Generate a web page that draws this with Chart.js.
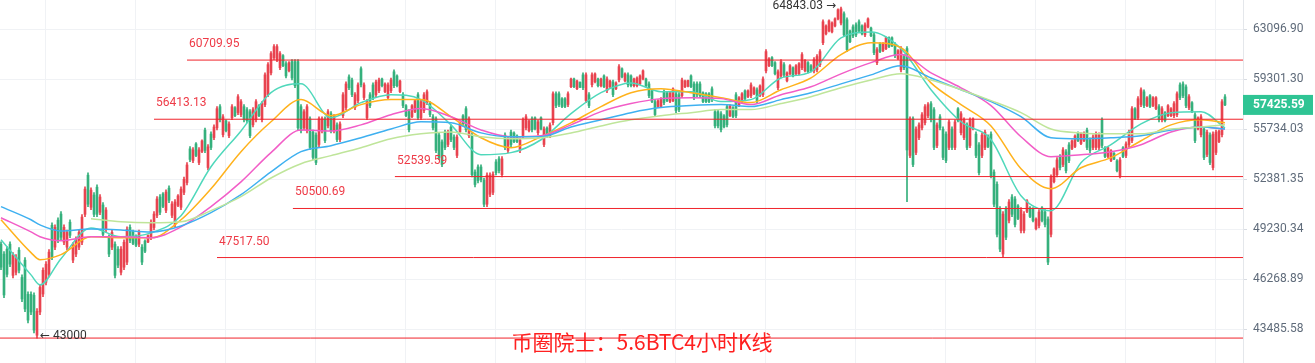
<!DOCTYPE html>
<html>
<head>
<meta charset="utf-8">
<script src="https://cdn.jsdelivr.net/npm/chart.js@4.4.1/dist/chart.umd.min.js"></script>
<style>
  html, body { margin: 0; padding: 0; background: #fff; }
  #wrap { width: 1315px; height: 363px; }
</style>
</head>
<body>
<div id="wrap"><canvas id="kline" width="1315" height="363"></canvas></div>
<script>
// 4h candles (index 0 = leftmost)
const opens = [
  48311,47719,48015,48311,46480,46657,47956,46357,47364,45395,
  45395,45339,43150,44414,45416,46085,46539,49459,48137,49774,
  50152,48433,48137,49648,47368,47723,48137,48433,50137,52631,
  50578,51349,51853,50263,50719,49202,48725,48137,48311,48015,
  46657,46953,47249,49333,49091,48795,48315,48133,48499,48442,
  48729,49321,50074,51223,51419,50389,51790,50074,49507,50697,
  50578,51523,52153,54376,53602,54715,53468,54204,55655,53133,
  55383,55146,55817,57297,55348,56298,55281,56528,57225,56884,
  56741,57297,57083,56941,56027,56385,57367,56385,57455,58167,
  59756,60894,60742,60135,61044,60442,59914,60594,60594,60594,
  57297,55817,55616,56441,55517,55316,54676,55616,56441,55955,
  56798,55616,56014,55012,56670,57241,59456,59228,57241,57740,
  60063,57954,56528,58153,58866,58167,58453,59298,58383,57954,
  58453,59835,59526,58383,58153,57367,56941,56600,56957,58153,
  56528,57027,57597,57511,56584,56441,55316,54846,55517,54676,
  55871,55182,53938,55546,56654,57155,55281,55316,52833,53168,
  53168,52298,50767,51397,51523,53504,53705,52664,55316,54274,
  55517,55453,55252,54274,55281,55817,55613,56441,56511,55482,
  56511,54676,55797,55281,56171,58224,58224,57867,57867,57455,
  58739,59298,58597,59048,59608,57740,58153,58880,59096,59298,
  58810,59526,58453,58739,59080,58597,59238,60057,59168,59608,
  59526,58810,58810,58953,59310,59298,58938,58437,57654,57313,
  57313,58367,58294,57670,57741,58224,58153,58097,58739,58770,
  59526,58938,58938,58938,58294,58223,58223,58580,56941,56941,
  56798,56654,57297,56671,57225,58153,57385,57670,58437,58027,
  58097,58240,58509,58097,58167,59908,60293,60892,60512,58667,
  59528,60367,59168,59686,60133,59686,59686,60135,59914,60512,
  60285,59908,59984,60363,62033,62722,62949,62873,63336,63895,
  63566,64303,63824,62941,63266,63426,63665,63336,62640,63256,
  63176,62643,60515,61955,61432,61583,62410,62410,61885,60824,
  59984,60974,61581,53938,56441,54139,55146,55817,56171,56670,
  57511,57083,54609,56584,55727,55383,54475,55727,54475,57153,
  55482,55146,56014,54609,55747,55383,54645,53938,54475,55252,
  55383,52833,52042,50467,47723,50467,49759,51223,51097,50663,
  49143,49143,50319,50537,50474,49251,49444,50537,50278,49837,
  48907,52209,52664,53839,53334,54175,54645,54405,54539,55453,
  54740,54942,55655,54981,54475,54475,54475,56370,54446,53868,
  53600,54084,53574,52598,54446,53938,54676,54945,57153,56528,
  57455,58367,57385,58080,57385,57171,57297,56385,56868,56671,
  56671,56670,56741,58866,58938,58723,57241,57581,56727,55747,
  55348,55727,54005,55316,53133,54139,54875,55348,58000
];
const highs = [
  48461,47869,48165,48461,47810,47691,48106,46507,47514,45545,
  45545,45489,44598,45935,46921,47277,47987,49609,49483,49924,
  50302,49483,49171,49798,48402,48757,49171,50113,51877,52781,
  51814,51499,52003,51373,50869,50554,48875,49171,48461,48165,
  48165,48579,49357,49483,49171,48875,49171,48283,48579,48875,
  49798,50302,51247,51373,51499,51688,51940,50932,51058,51373,
  51877,52515,53452,54526,54459,54795,54459,54996,55805,54660,
  55533,56021,57305,57447,56734,56378,56235,57447,57305,58160,
  57804,57447,57233,57091,57233,57804,57447,57661,59758,60517,
  61351,61883,61883,61351,61124,60592,60592,60744,60744,60744,
  57447,57091,57447,56591,55667,55466,56591,56591,56591,57091,
  56948,56734,56164,56235,58303,59088,59606,59378,58303,59016,
  60213,59016,57804,58303,59016,59230,59378,59378,59016,59016,
  59378,59985,59606,59230,58303,57447,57091,57447,57804,58303,
  57804,58303,58517,57661,56734,56591,55466,54996,55667,55667,
  56021,55332,55332,56235,56734,57305,56591,55466,52983,53318,
  53318,52448,52781,52781,52848,53654,53855,53855,55466,55198,
  55667,55533,55332,55131,56520,56734,56378,56591,56591,56378,
  56591,55877,55877,56164,58374,58374,58374,57947,57947,58374,
  59378,59378,59230,59088,59758,59758,58303,59758,59758,59378,
  59378,59606,59454,59230,59230,59088,60365,60137,59758,59758,
  59606,59378,59454,59606,59985,59378,59088,58517,57804,57804,
  57947,58517,58374,58374,58659,58374,58303,59378,59230,59230,
  59606,59088,59088,59088,58374,58303,58303,58730,57091,57091,
  56948,56734,57447,57447,57305,58303,58017,58303,58517,58517,
  59016,58730,58659,58873,59454,61503,60896,60972,60592,59985,
  60744,60517,59834,60365,60213,60365,60517,61275,60744,60592,
  60365,60896,61124,61503,63815,63416,63815,63655,63974,64700,
  64843.03,64453,63974,63021,63416,63576,63815,63416,63576,63974,
  63256,62793,61655,62035,62035,62490,62490,62490,62035,61503,
  61731,61124,61731,56591,56591,55877,56164,56877,57447,57590,
  57661,57233,56164,56734,55877,55533,56378,55877,56378,57233,
  56948,56520,56164,56520,56520,55533,54795,55466,55667,55332,
  55533,52983,52192,50617,50302,50617,51058,51373,51247,50743,
  50554,50302,51058,50617,50554,49924,50428,50617,50428,49987,
  52647,53116,53788,53989,54459,54325,54795,54996,55332,55533,
  55466,55533,55805,55131,55332,55533,55466,56520,54526,54526,
  54325,54124,53654,53788,54526,54862,55667,57305,57233,58017,
  58659,58517,58017,58160,58017,58017,57447,57305,56948,57447,
  57233,57661,58374,59016,59088,58873,58160,57661,56877,56591,
  56734,55877,55667,55466,55533,55667,55667,57804,58160
];
const lows = [
  46803,45210,46389,46981,46330,46507,46625,44988,44431,43818,
  44264,43276,43000,44264,45266,45935,46389,47395,47987,48402,
  48579,48283,47987,48697,47218,47573,47987,48283,49987,50617,
  50428,49987,49987,50113,48757,49052,47573,47987,46330,46921,
  46507,46803,47099,48402,48283,48165,48165,47099,47810,48402,
  48579,49171,49924,50113,50554,50239,50869,49924,49357,50617,
  50428,51373,52003,53520,53452,53855,53318,54124,54124,52983,
  54325,54996,55667,56235,55198,55533,55131,56378,56591,56734,
  56591,56235,56164,55131,55877,56235,56591,56235,57305,58017,
  59606,60744,60592,59985,60213,59378,59834,59230,58659,55667,
  55466,55667,55466,54325,53654,53318,54526,55466,54795,55805,
  55466,55466,54862,54862,56520,57091,58517,58017,57091,57590,
  58730,57804,56378,57233,57804,58017,58303,58730,58303,57804,
  58303,58659,58730,58303,57233,56591,55533,56520,56877,56378,
  56378,56877,57447,56591,55667,54124,53654,53184,54325,54526,
  54862,54325,53788,55466,56021,55533,55131,52514,51877,52129,
  52192,50617,50617,51247,51373,52647,52781,52514,54325,54124,
  54526,54795,54795,54124,55131,55667,55533,55533,55667,55332,
  55667,54526,55131,55131,56021,57233,57305,57233,57233,57305,
  58659,58659,58517,58659,58517,57590,57233,58730,59016,58730,
  58730,58659,58303,58659,58017,58517,59088,59378,59088,58730,
  58730,58730,58730,58873,59230,58730,57947,57590,56591,57233,
  57233,57447,57661,57590,57661,56877,56948,57947,58659,58730,
  58659,57804,58017,57947,57590,57590,57590,57661,55805,55805,
  55533,55805,55877,56591,56520,56520,57305,57590,57804,57947,
  57947,58160,57590,58017,58017,59758,60213,60213,59606,58517,
  59378,59454,59088,59606,59454,59606,59606,59985,59834,59758,
  59834,59758,59834,60213,61883,62642,62869,62793,63256,63815,
  63416,62490,61352,62035,62414,62490,62793,62642,62490,63176,
  62490,61124,60365,61276,61352,61503,61655,61731,60896,60744,
  59834,59985,50932,53788,53184,53989,54996,55667,56021,56520,
  56235,54325,54459,55667,53654,53452,54325,54325,54325,56235,
  55332,54996,54325,54459,55667,53788,52647,53788,54325,54459,
  52448,50617,48757,47869,47573,48579,49609,49987,49357,49798,
  48993,48993,50239,49924,49672,49171,49294,49672,49357,47099,
  48757,52129,52514,52983,53184,52781,53452,54325,54459,54862,
  54660,54862,54325,54124,54325,54325,54325,54459,53788,53788,
  53520,53654,52848,52448,53788,53788,54526,54795,56378,56378,
  57305,57233,57305,57233,57305,57091,56235,56235,56235,56591,
  56591,56520,56591,57804,57947,57233,57091,56877,54795,55667,
  55198,53654,53855,53318,52983,53989,54795,55198,57380
];
const closes = [
  46953,45360,46539,47131,47660,47541,46775,45138,44581,43968,
  44414,43426,44448,45785,46771,47127,47837,47545,49333,48552,
  48729,49333,49021,48847,48252,48607,49021,49963,51727,50767,
  51664,50137,50137,51223,48907,50404,47723,49021,46480,47071,
  48015,48429,49207,48552,48363,48245,49021,47249,47890,48835,
  49648,50152,51097,50263,50634,51538,51019,50782,50908,51293,
  51727,52365,53302,53670,54309,53935,54309,54916,54274,54510,
  54475,55871,57155,56385,56584,55613,56085,57297,56671,58010,
  57654,56385,56314,55281,57083,57654,56671,57511,59608,60367,
  61201,61733,61733,61201,60293,59528,60512,59380,58809,55817,
  55616,56941,57297,54475,53804,53468,56441,56441,54945,56941,
  55616,56584,55012,56085,58153,58938,58667,58167,58153,58866,
  58880,58866,57654,57383,57954,59080,59228,58810,58936,58866,
  59228,58809,58810,59150,57383,56671,55683,57367,57724,56528,
  57654,58153,58367,56741,55817,54274,53804,53334,54475,55517,
  55012,54475,55182,56155,56101,55683,56441,52664,52027,52279,
  52342,50767,52631,52631,52698,52797,52931,53705,54475,55048,
  54676,54875,54875,54981,56370,56584,56298,55683,55747,56228,
  55747,55727,55211,56014,58224,57383,57455,57313,57313,58224,
  59298,58739,59150,58699,58667,59608,57383,59608,59678,58810,
  59298,58739,59304,59150,58167,59008,60215,59458,59678,58880,
  58810,59298,59374,59526,59905,58810,58097,57670,56741,57724,
  57867,57597,57741,58294,58579,57027,57098,59228,59150,59190,
  58739,57954,58167,58097,57670,57670,57670,57811,55955,55955,
  55683,55885,56027,57367,56600,56670,57937,58223,57884,58437,
  58866,58650,57740,58793,59304,61353,60816,60293,59686,59835,
  60594,59604,59754,60285,59534,60285,60437,61125,60664,59838,
  59914,60746,60974,61353,63665,63336,63735,63575,63894,64620,
  64693,62640,61502,62115,62564,62640,62943,62722,63426,63894,
  62570,61274,61505,61356,61955,62410,61735,61811,61046,61423,
  61581,60135,54300,56441,53334,55727,56014,56727,57297,57440,
  56385,54475,56014,55817,53804,53602,56228,54475,56228,56315,
  56798,56370,54475,56370,56440,53938,52797,55316,55517,54539,
  52598,50767,48907,48019,50152,48729,50908,50137,49507,49878,
  50404,50152,50978,50004,49752,49844,50278,49752,49507,47249,
  52497,53036,53638,53133,54309,52931,53602,54916,55252,54942,
  55386,55453,54475,54274,55182,55383,55316,54609,53868,54446,
  54245,53694,52928,53638,53868,54712,55517,57155,56458,57867,
  58509,57383,57937,57313,57937,57937,56385,57155,56315,57367,
  57153,57511,58224,57954,58097,57383,58010,56957,54945,56511,
  56584,53804,55517,53468,55383,55517,55587,57654,57425.59
];

// moving averages, sampled at these candle indexes
const maIdx = [0,10,13,20,30,40,50,60,70,80,90,100,110,120,130,140,150,160,170,180,190,200,
  210,220,230,240,250,260,270,280,290,300,310,320,330,340,350,360,370,380,390,400,408];
const maTeal = [48579,46507,45935,47454,49294,48757,48993,50050,53184,55600,58303,58945,56520,57590,
  58160,57804,56021,53989,54124,54996,56805,58303,59016,58374,58374,57661,57804,59378,59834,62414,
  62869,61579,58517,56235,54996,51310,50365,53452,54660,56092,56877,56948,55805];
const maOrange = [49798,47810,47395,47691,48757,48697,48697,49798,51751,54191,56235,57804,56663,57447,
  57804,57804,56591,55131,54459,55198,56164,57305,58303,58588,58303,57947,57590,58517,59378,61124,
  62035,61655,59016,57447,55949,53050,51751,53116,53788,54929,56021,56378,56164];
const maPink = [49924,49052,48757,48520,48757,48757,48697,49357,50617,52192,54124,55667,55600,56021,
  56734,57162,56591,55667,55198,55265,56021,56948,57519,57875,57947,57875,57447,58160,58730,59682,
  60517,61124,59758,58659,57376,55198,53855,53989,54191,54660,55533,55877,55734];
const maBlue = [50617,49798,49483,49112,49230,49171,49052,49420,50239,51373,52849,54191,54593,55131,
  55734,56235,56164,55466,55198,55198,55877,56378,56877,57233,57376,57447,57305,57804,58303,58945,
  59606,60289,59378,58517,57661,56591,55131,55064,55131,55265,55667,55877,55734];
const maGreen = [null,null,null,null,49861,49672,49609,49672,50365,51247,52448,53385,53922,54459,
  55064,55399,55533,55198,55064,55131,55466,55949,56378,56663,56877,57091,57091,57519,58017,58659,
  59230,59682,59230,58517,57732,56877,55734,55466,55399,55399,55734,55877,56021];

// horizontal price levels and the candle index where each one starts
const levelVals = [60709.95, 56413.13, 52539.59, 50500.69, 47517.50, 43000];
const levelFrom = [62, 51, 131.3, 97.3, 72, -0.34];
const levelShowText = [true, true, true, true, true, false];

const yTicks = [63096.90, 59301.30, 55734.03, 52381.35, 49230.34, 46268.89, 43485.58];
const xGrid = [29.67, 59.67, 89.67, 119.67, 149.67, 179.67, 209.67, 239.67, 269.67, 299.67, 329.67, 359.67, 389.67];

const highIdx = 280, lowIdx = 12;
const title = '币圈院士：5.6BTC4小时K线';

const UP = '#e8434f', DOWN = '#35b07c';
const candleColor = ctx => closes[ctx.dataIndex] >= opens[ctx.dataIndex] ? UP : DOWN;

const wickData = highs.map((h, i) => ({ x: i, y: [lows[i], h] }));
const bodyData = opens.map((o, i) => ({ x: i, y: [o, closes[i]] }));

function maSet(vals, color) {
  return {
    type: 'line',
    data: maIdx.map((x, k) => ({ x: x, y: vals[k] })),
    borderColor: color,
    borderWidth: 1.5,
    pointRadius: 0,
    cubicInterpolationMode: 'monotone',
    spanGaps: false,
    order: 2
  };
}

const levelSets = levelVals.map((v, k) => ({
  type: 'line',
  data: [{ x: levelFrom[k], y: v }, { x: 414, y: v }],
  borderColor: '#f0232b',
  borderWidth: 1,
  pointRadius: 0,
  order: 1
}));

const labelFont = '12px Roboto, "DejaVu Sans", sans-serif';

const overlay = {
  id: 'overlay',
  afterDraw(chart) {
    const c = chart.ctx, xs = chart.scales.x, ys = chart.scales.y;
    c.save();
    // level labels
    c.font = labelFont;
    c.fillStyle = '#ee3b47';
    c.textAlign = 'left';
    c.textBaseline = 'middle';
    levelVals.forEach((v, k) => {
      if (!levelShowText[k]) return;
      c.fillText(v.toFixed(2), xs.getPixelForValue(levelFrom[k]) + 2, ys.getPixelForValue(v) - 16);
    });
    // high / low markers
    c.fillStyle = '#333';
    c.textAlign = 'right';
    c.fillText(highs[highIdx].toFixed(2) + ' \u2192', xs.getPixelForValue(highIdx) - 5, ys.getPixelForValue(highs[highIdx]) - 1);
    c.textAlign = 'left';
    c.fillText('\u2190 ' + lows[lowIdx], xs.getPixelForValue(lowIdx) + 3, ys.getPixelForValue(lows[lowIdx]) - 2);
    // last price tag
    const last = closes[closes.length - 1];
    const ly = ys.getPixelForValue(last);
    c.fillStyle = '#2fc494';
    c.fillRect(ys.left, ly - 10, ys.right - ys.left - 2, 20);
    c.fillStyle = '#fff';
    c.font = 'bold 12px Roboto, "Liberation Sans", sans-serif';
    c.fillText(last.toFixed(2), ys.left + 10, ly);
    // caption
    c.font = '21px "Noto Sans CJK SC", sans-serif';
    c.fillStyle = '#ff2020';
    c.textAlign = 'center';
    c.fillText(title, 642, 342);
    c.restore();
  }
};

new Chart(document.getElementById('kline'), {
  type: 'bar',
  data: {
    datasets: [
      { data: wickData, backgroundColor: candleColor, barThickness: 1, grouped: false, order: 4 },
      { data: bodyData, backgroundColor: candleColor, barThickness: 2, grouped: false, order: 3 },
      maSet(maGreen, '#bfe59a'),
      maSet(maBlue, '#3eb0f0'),
      maSet(maPink, '#f25dc7'),
      maSet(maOrange, '#ffb21c'),
      maSet(maTeal, '#4fd8bb'),
      ...levelSets
    ]
  },
  options: {
    responsive: false,
    devicePixelRatio: 1,
    animation: false,
    layout: { padding: 0 },
    plugins: { legend: { display: false }, tooltip: { enabled: false } },
    scales: {
      x: {
        type: 'linear',
        offset: false,
        min: -1 / 3,
        max: 414,
        afterBuildTicks: s => { s.ticks = xGrid.map(v => ({ value: v })); },
        afterFit: s => { s.height = 0; s.paddingLeft = 0; s.paddingRight = 0; },
        ticks: { display: false },
        grid: { color: '#f0f2f5', drawTicks: false },
        border: { display: false }
      },
      y: {
        type: 'logarithmic',
        position: 'right',
        min: 41690,
        max: 65409,
        afterBuildTicks: s => { s.ticks = yTicks.map(v => ({ value: v })); },
        afterFit: s => { s.width = 72; s.paddingTop = 0; s.paddingBottom = 0; },
        ticks: {
          callback: v => Number(v).toFixed(2),
          color: '#5f6b7a',
          font: { family: 'Roboto', size: 12 },
          padding: 6
        },
        grid: { color: '#f0f2f5', tickLength: 4, tickColor: '#d8dce2' },
        border: { color: '#e4e7eb' }
      }
    }
  },
  plugins: [overlay]
});
</script>
</body>
</html>
